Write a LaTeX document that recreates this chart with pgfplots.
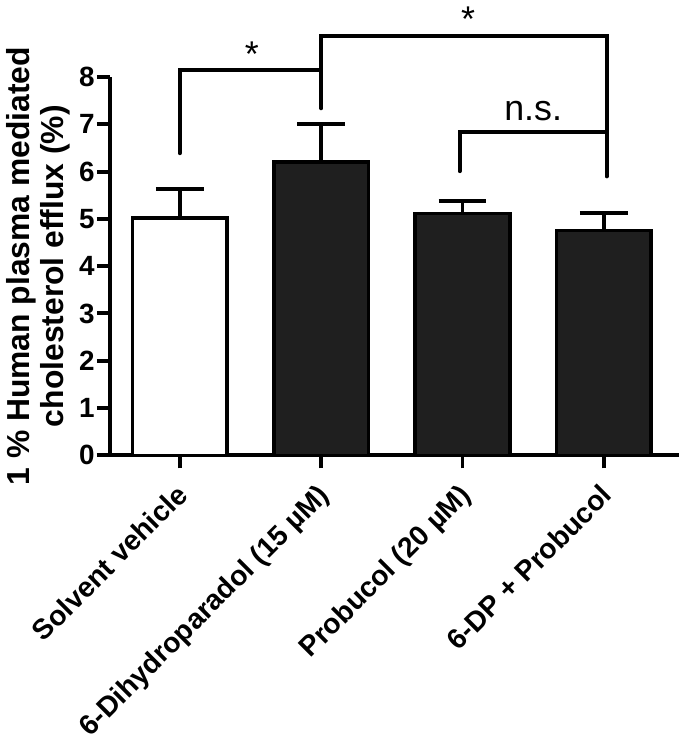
\documentclass[border=0pt]{standalone}
\usepackage{pgfplots}
\pgfplotsset{compat=1.18}
\usepackage{fontspec}
\setmainfont{Liberation Sans}

\definecolor{barblack}{HTML}{1F1F1F}

\begin{document}
\begin{tikzpicture}
\begin{axis}[
    scale only axis,
    width=285bp, height=189.5bp,
    xmin=-0.494, xmax=3.53,
    ymin=0, ymax=8,
    axis lines*=left,
    axis line style={line width=2bp},
    x axis line style={shorten <=-6.5bp},
    clip=false,
    ytick={0,1,2,3,4,5,6,7,8},
    xtick={0,1,2,3},
    xticklabels={Solvent vehicle, 6-Dihydroparadol (15 µM), Probucol (20 µM), 6-DP + Probucol},
    tick align=outside,
    major tick length=6.5bp,
    tick style={line width=2bp, black},
    /pgf/number format/assume math mode=true,
    yticklabel style={font=\bfseries\fontsize{14}{14}\selectfont, inner sep=1bp},
    xticklabel style={font=\bfseries\fontsize{14.2}{14.2}\selectfont, xshift=2bp, rotate=45,
        anchor=east, inner sep=1bp, text depth=0pt},
    xticklabel shift=10bp,
    ylabel={1 \% Human plasma mediated\\cholesterol efflux (\%)},
    ylabel style={font=\bfseries\fontsize{16}{17}\selectfont, align=center},
    ybar, bar shift=0pt, bar width=0.67,
]
% solvent vehicle (open bar)
\addplot[draw=black, fill=white, line width=1.75bp,
    error bars/.cd, y dir=plus, y explicit,
    error bar style={line width=1.75bp, black},
    error mark options={rotate=90, mark size=12bp, line width=1.75bp, black}]
    coordinates {(0,5.02) +- (0,0.61)};
% treatments (filled bars)
\addplot[draw=black, fill=barblack, line width=1.75bp,
    error bars/.cd, y dir=plus, y explicit,
    error bar style={line width=1.75bp, black},
    error mark options={rotate=90, mark size=12bp, line width=1.75bp, black}]
    coordinates {(1,6.20) +- (0,0.81) (2,5.11) +- (0,0.27) (3,4.75) +- (0,0.37)};

% significance brackets
\draw[line width=2bp, line cap=round] (axis cs:0,6.39) -- (axis cs:0,8.16) -- (axis cs:1,8.16) -- (axis cs:1,7.34);
\draw[line width=2bp, line cap=round] (axis cs:1,8.16) -- (axis cs:1,8.86) -- (axis cs:3.02,8.86) -- (axis cs:3.02,5.90);
\draw[line width=2bp, line cap=round] (axis cs:1.98,6.01) -- (axis cs:1.98,6.84) -- (axis cs:3.02,6.84);
\node[font=\fontsize{18}{18}\selectfont] at (axis cs:0.51,8.49) {*};
\node[font=\fontsize{18}{18}\selectfont] at (axis cs:2.04,9.23) {*};
\node[font=\fontsize{18}{18}\selectfont, anchor=base] at (axis cs:2.5,7.08) {n.s.};
\end{axis}
\end{tikzpicture}
\end{document}
